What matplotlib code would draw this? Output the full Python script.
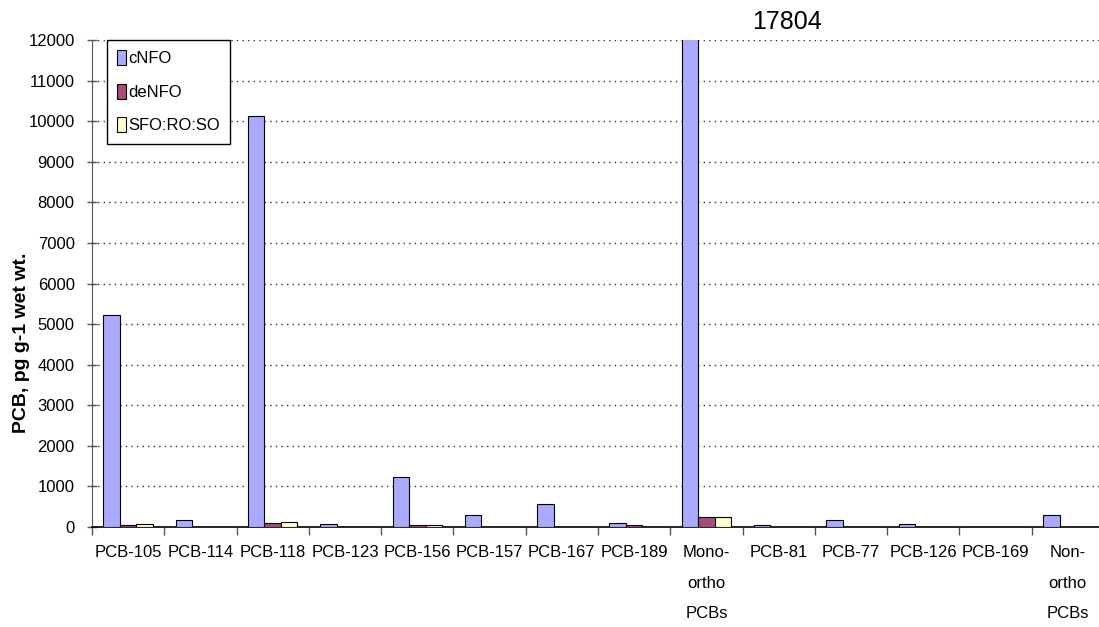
#!/usr/bin/python3

import numpy as np
import matplotlib
matplotlib.use('Agg')
import matplotlib.pyplot as plt

# data
categories = ['PCB-105', 'PCB-114', 'PCB-118', 'PCB-123', 'PCB-156', 'PCB-157',
              'PCB-167', 'PCB-189', 'Mono-\northo\nPCBs', 'PCB-81', 'PCB-77',
              'PCB-126', 'PCB-169', 'Non-\northo\nPCBs']
cnfo = [5220, 175, 10120, 80, 1240, 300, 570, 100, 17804, 45, 165, 85, 5, 300]
denfo = [48, 4, 88, 4, 50, 4, 4, 50, 255, 2, 2, 2, 1, 7]
sfo = [85, 2, 120, 2, 40, 2, 2, 2, 255, 1, 1, 1, 1, 4]
series_names = ['cNFO', 'deNFO', 'SFO:RO:SO']
yticks = list(range(0, 12001, 1000))

plt.rcParams['font.family'] = ['Liberation Sans', 'DejaVu Sans']

W, H = 1099, 627
fig = plt.figure(figsize=(W / 100, H / 100), dpi=100)
ax = fig.add_axes([92 / W, (H - 527) / H, (1104 - 92) / W, (527 - 40) / H])

x = np.arange(len(categories))
bw = 0.228
colors = ['#AAAAFF', '#A64D79', '#FFFFCC']
for k, (vals, col, name) in enumerate(zip([cnfo, denfo, sfo], colors, series_names)):
    ax.bar(x + (k - 1) * bw, vals, width=bw, color=col, edgecolor='black',
           linewidth=0.8, label=name, zorder=3)

ax.set_xlim(-0.5, len(categories) - 0.5)
ax.set_ylim(0, 12000)
ax.set_yticks(yticks)
ax.set_yticklabels([str(v) for v in yticks], fontsize=12)
ax.yaxis.grid(True, linestyle=(0, (1, 3)), color='#333333', linewidth=1, zorder=0)
ax.set_axisbelow(True)

# category boundaries get the tick marks, labels sit at the centres
ax.set_xticks(np.arange(len(categories) + 1) - 0.5)
ax.set_xticklabels([])
ax.set_xticks(x, minor=True)
ax.set_xticklabels(categories, minor=True, fontsize=12, linespacing=2.3, va='top')
ax.tick_params(axis='x', which='major', direction='out', length=6, width=1, color='#555555')
ax.tick_params(axis='x', which='minor', length=0, pad=13)
ax.tick_params(axis='y', direction='inout', length=7, width=1, color='#555555', pad=9)

for s in ['top', 'right']:
    ax.spines[s].set_visible(False)
ax.spines['left'].set_color('#555555')
ax.spines['bottom'].set_color('black')
ax.spines['bottom'].set_linewidth(1.2)

fig.text(22 / W, 1 - 343 / H, 'PCB, pg g-1 wet wt.', rotation=90, fontsize=14,
         fontweight='bold', ha='center', va='center')

fig.text(787 / W, 1 - 22 / H, str(cnfo[8]), fontsize=18, ha='center', va='center')

leg = ax.legend(loc='upper left', bbox_to_anchor=(0.0145, 1.0), borderaxespad=0,
                fontsize=12, fancybox=False, framealpha=1, edgecolor='black',
                handlelength=0.55, handleheight=1.0, handletextpad=0.15,
                labelspacing=1.05, borderpad=0.6)
leg.get_frame().set_linewidth(1)

fig.savefig('out.png', dpi=100)
